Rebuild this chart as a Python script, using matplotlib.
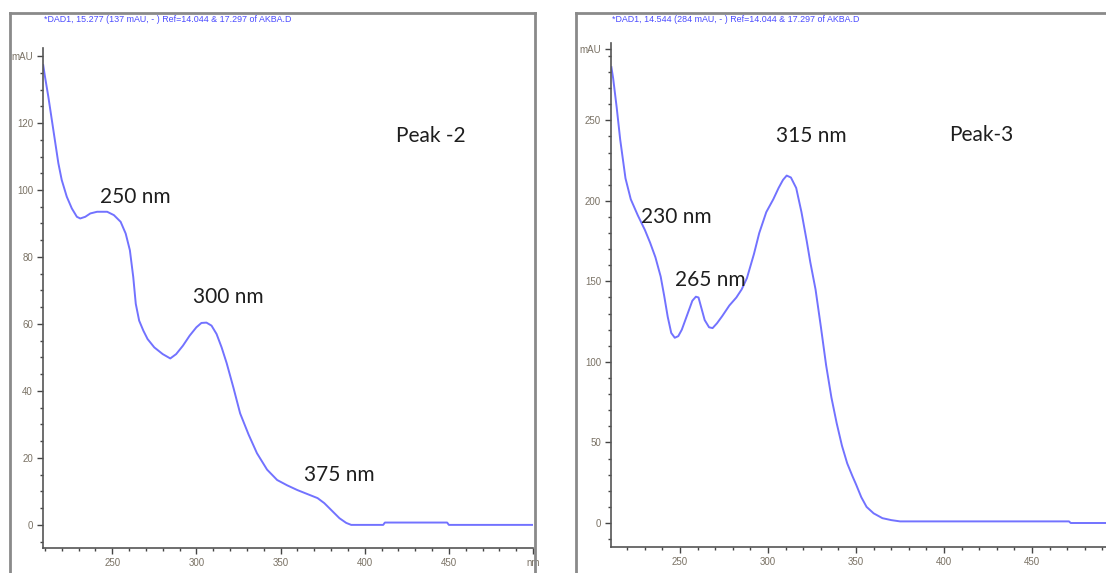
import matplotlib
matplotlib.use('Agg')
import matplotlib.pyplot as plt
from matplotlib.lines import Line2D
from matplotlib.ticker import MultipleLocator

# Peak-2 UV spectrum (nm, mAU)
wl_peak2 = [209, 210, 212, 215, 218, 220, 223, 226, 229, 231, 234, 237, 241,
            247, 251, 255, 258, 260.5, 262.5, 264, 266, 268.5, 271, 275, 280,
            284.5, 288, 292, 296, 300, 303, 306, 309, 312, 315, 318, 322, 326,
            331, 336, 342, 348, 354, 360, 366, 372, 376, 380, 385, 389, 392,
            411, 412, 449, 450, 500]
abs_peak2 = [137.3, 134, 128, 118, 108, 103, 98, 94.5, 92, 91.5, 92, 93, 93.5,
             93.5, 92.5, 90.5, 87, 82, 74, 66, 61, 58, 55.5, 53, 51,
             49.7, 51, 53.5, 56.5, 59, 60.3, 60.4, 59.5, 57, 53, 48.3, 41, 33.3,
             27, 21.4, 16.5, 13.4, 11.8, 10.4, 9.2, 8, 6.5, 4.5, 2, 0.6, 0,
             0, 0.7, 0.7, 0, 0]

# Peak-3 UV spectrum
wl_peak3 = [211, 212, 214, 216, 219, 222, 226, 230, 233, 236, 239, 241, 243,
            245, 247, 249, 251, 253, 255, 257, 259, 260.5, 262, 264, 266.5,
            268.5, 271, 274, 278, 282, 285, 288, 292, 295, 299, 303, 306,
            308.5, 310.6, 313, 316, 319, 322, 324, 327, 330, 333, 336, 339,
            342, 345, 348, 350, 353, 356, 360, 365, 370, 375, 471, 472, 500]
abs_peak3 = [283, 276, 258, 238, 214, 201, 191, 182, 174, 165, 153, 141, 128,
             118, 115, 116, 120, 126, 132, 138, 140.5, 140, 134, 126, 121.5,
             121, 124, 128.5, 135, 140, 145, 152, 167, 180, 193, 201, 208,
             213, 215.7, 214.5, 208, 193, 175, 162, 145, 122, 98, 78, 62,
             48, 37, 29, 24, 16, 10, 6, 3, 1.8, 1, 1, 0, 0]

# annotations: (text, nm, mAU)
labels_peak2 = [('250 nm', 264, 98), ('300 nm', 319, 68), ('375 nm', 385, 15),
                ('Peak -2', 439, 116)]
labels_peak3 = [('230 nm', 248, 190), ('265 nm', 267, 151), ('315 nm', 324.5, 240),
                ('Peak-3', 421, 241)]

titles = ['*DAD1, 15.277 (137 mAU, - ) Ref=14.044 & 17.297 of AKBA.D',
          '*DAD1, 14.544 (284 mAU, - ) Ref=14.044 & 17.297 of AKBA.D']

line_col = '#7272ff'
tick_col = '#7a7265'
narrow = ['Liberation Sans', 'DejaVu Sans']

W, H = 1106, 573
fig = plt.figure(figsize=(W / 100, H / 100), dpi=100)


def px_box(x0, x1, y0, y1):
    # pixel box -> figure fraction [left, bottom, width, height]
    return [x0 / W, 1 - y1 / H, (x1 - x0) / W, (y1 - y0) / H]


def panel(box, wl, ab, xlim, ylim, ymajor, yminor, ytop, xt, xtl, labels, title):
    ax = fig.add_axes(box)
    ax.plot(wl, ab, color=line_col, lw=1.4)
    ax.set_xlim(*xlim)
    ax.set_ylim(*ylim)
    for s in ['top', 'right']:
        ax.spines[s].set_visible(False)
    for s in ['left', 'bottom']:
        ax.spines[s].set_color('#555555')
        ax.spines[s].set_linewidth(1.2)
    yt = list(range(0, int(ylim[1]) - 10, ymajor))
    yt = [v for v in yt if v < ytop - ymajor / 2] + [ytop]
    ax.set_yticks(yt)
    ax.set_yticklabels([str(v) for v in yt[:-1]] + ['mAU'])
    ax.yaxis.set_minor_locator(MultipleLocator(yminor))
    ax.set_xticks(xt)
    ax.set_xticklabels(xtl)
    ax.xaxis.set_minor_locator(MultipleLocator(10))
    ax.tick_params(which='major', length=4, width=1, color='#444444',
                   labelsize=7, labelcolor=tick_col, pad=3)
    ax.tick_params(which='minor', length=2.5, width=1, color='#444444')
    for t in ax.get_xticklabels() + ax.get_yticklabels():
        t.set_family(narrow)
    for txt, x, y in labels:
        ax.text(x, y, txt, ha='center', va='center', fontsize=15,
                family=['Lato', 'DejaVu Sans'], color='#1e1e1e')
    fig.text(box[0] + 0.001, 1 - 20 / H, title, ha='left', va='center',
             fontsize=6.4, color='#4a4aff', family=narrow)
    return ax


panel(px_box(42.7, 533, 48, 548), wl_peak2, abs_peak2, (208.7, 500),
      (-6.9, 142.4), 20, 5, 140,
      [250, 300, 350, 400, 450, 500], ['250', '300', '350', '400', '450', 'nm'],
      labels_peak2, titles[0])
panel(px_box(610.7, 1120, 43, 547), wl_peak3, abs_peak3, (210.6, 500),
      (-14.9, 298), 50, 10, 294,
      [250, 300, 350, 400, 450], ['250', '300', '350', '400', '450'],
      labels_peak3, titles[1])

# grey frames around each panel
frame = dict(color='#8a8a8a', lw=2, transform=fig.transFigure)
for xs, ys in [([10, 535], [13, 13]), ([10, 10], [13, 573]), ([535, 535], [13, 573]),
               ([576, 1106], [13, 13]), ([576, 576], [13, 573])]:
    fig.add_artist(Line2D([x / W for x in xs], [1 - y / H for y in ys], **frame))

fig.savefig('out.png', dpi=100)
